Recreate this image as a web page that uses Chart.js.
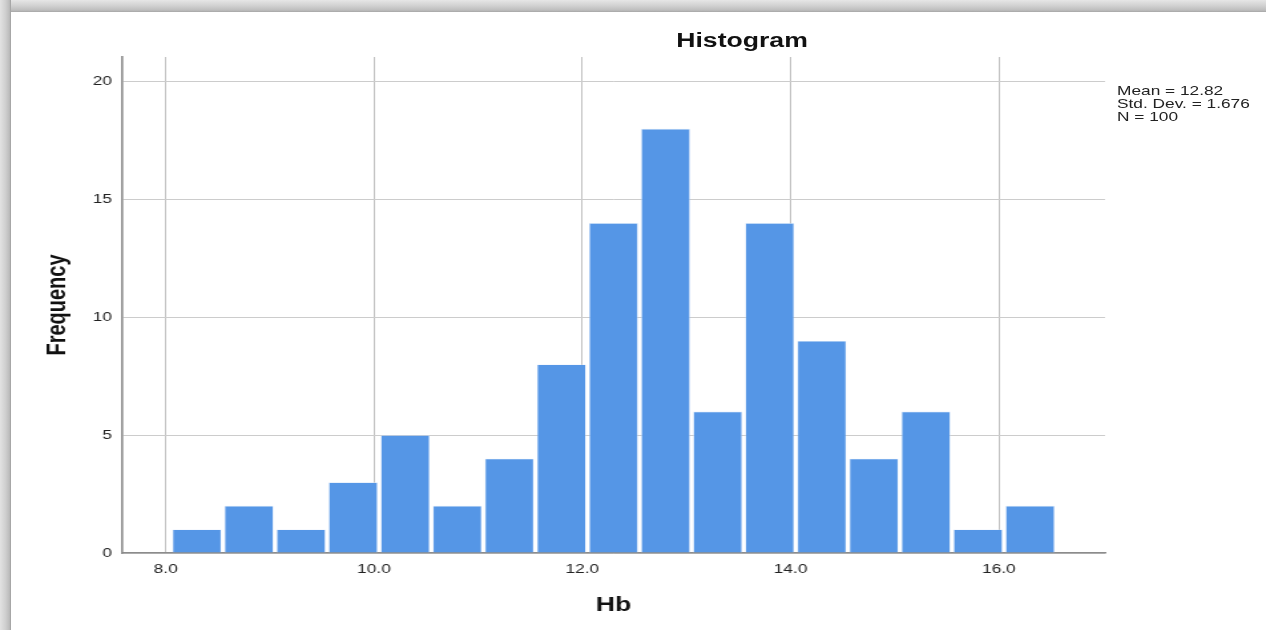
<!DOCTYPE html>
<html>
<head>
<meta charset="utf-8">
<script src="https://cdn.jsdelivr.net/npm/chart.js@4.4.0/dist/chart.umd.min.js"></script>
<style>
  html, body { margin: 0; padding: 0; background: #fff; }
  body { width: 1266px; height: 630px; position: relative; overflow: hidden; font-family: "Liberation Sans", Arial, sans-serif; }
  #frameTop { position: absolute; left: 0; top: 0; width: 1266px; height: 12px;
    background: linear-gradient(to bottom, #e6e6e6, #d2d2d2 45%, #bdbdbd 85%, #a6a6a6); }
  #frameLeft { position: absolute; left: 0; top: 0; width: 11px; height: 630px;
    background: linear-gradient(to right, #e2e2e2, #cfcfcf 50%, #bcbcbc 85%, #9e9e9e); }
  /* the picture is stretched sideways, so the chart is drawn narrow and scaled */
  #wrap { position: absolute; left: 0; top: 0; width: 952px; height: 630px;
    transform: scaleX(1.3298); transform-origin: 0 0; }
  #title { position: absolute; left: 458px; width: 200px; top: 29px; text-align: center;
    font-weight: bold; font-size: 20px; color: #111; }
  #stats { position: absolute; left: 840px; top: 84px; font-size: 13px; line-height: 13px; color: #222; white-space: nowrap; }
</style>
</head>
<body>
<div id="frameTop"></div>
<div id="frameLeft"></div>
<div id="wrap">
  <canvas id="mycanvas" width="952" height="630"></canvas>
  <div id="title">Histogram</div>
  <div id="stats">Mean = 12.82<br>Std. Dev. = 1.676<br>N = 100</div>
</div>
<script>
// bin midpoints (Hb) and counts
var binMid = [8.3, 8.8, 9.3, 9.8, 10.3, 10.8, 11.3, 11.8, 12.3, 12.8, 13.3, 13.8, 14.3, 14.8, 15.3, 15.8, 16.3];
var freq = [1, 2, 1, 3, 5, 2, 4, 8, 14, 18, 6, 14, 9, 4, 6, 1, 2];
var xTicks = [8, 10, 12, 14, 16];
var xTickLabels = ['8.0', '10.0', '12.0', '14.0', '16.0'];
var yTicks = [0, 5, 10, 15, 20];

var punkty = [];
for (var i = 0; i < binMid.length; i++) {
	punkty.push({x: binMid[i], y: freq[i]});
}

var ctx = document.getElementById('mycanvas');

var wykres = new Chart(ctx, {
	type: 'bar',
	data: {
		datasets: [{
			label: 'Hb',
			data: punkty,
			backgroundColor: '#5596e6',
			borderColor: 'rgba(215, 230, 250, 0.9)',
			borderWidth: 0.6,
			barPercentage: 0.94,
			categoryPercentage: 1
		}]
	},
	options: {
		responsive: false,
		animation: false,
		layout: { padding: { top: 57, right: 121, left: 0, bottom: 0 } },
		plugins: {
			legend: { display: false },
			tooltip: { enabled: false }
		},
		scales: {
			x: {
				type: 'linear',
				min: 7.58,
				max: 17.02,
				offset: false,
				afterBuildTicks: function(scale) {
					scale.ticks = xTicks.map(function(v) { return {value: v}; });
				},
				afterFit: function(scale) { scale.height = 77; },
				ticks: {
					padding: 9,
					color: '#222',
					font: { family: 'Liberation Sans', size: 13 },
					maxRotation: 0,
					callback: function(value, index) { return xTickLabels[index]; }
				},
				grid: { color: '#c2c2c2', lineWidth: 1, drawTicks: false, offset: false },
				border: { display: true, color: '#8c8c8c', width: 1.6 },
				title: {
					display: true,
					text: 'Hb',
					color: '#111',
					font: { family: 'Liberation Sans', size: 20, weight: 'bold' },
					padding: { top: 0, bottom: 13 }
				}
			},
			y: {
				min: 0,
				max: 21.05,
				afterBuildTicks: function(scale) {
					scale.ticks = yTicks.map(function(v) { return {value: v}; });
				},
				afterFit: function(scale) { scale.width = 91.7; },
				ticks: {
					padding: 7.5,
					color: '#222',
					font: { family: 'Liberation Sans', size: 13 }
				},
				grid: { color: '#cccccc', lineWidth: 1, drawTicks: false },
				border: { display: true, color: '#8c8c8c', width: 1.6 },
				title: {
					display: true,
					text: 'Frequency',
					color: '#111',
					font: { family: 'Liberation Sans', size: 20, weight: 'bold' },
					padding: { top: 31, bottom: 0 }
				}
			}
		}
	}
});
</script>
</body>
</html>
